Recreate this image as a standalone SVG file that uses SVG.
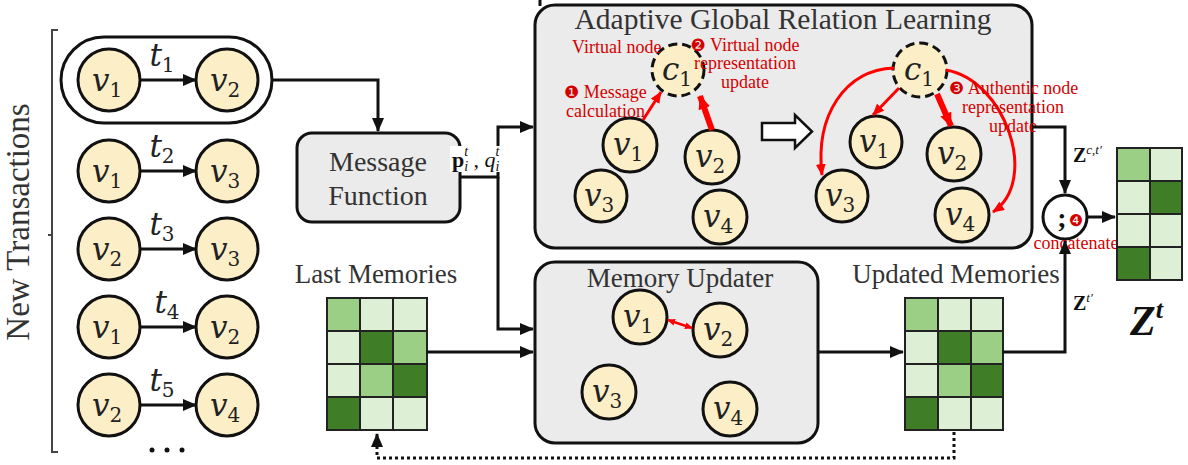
<svg xmlns="http://www.w3.org/2000/svg" width="1188" height="465" viewBox="0 0 1188 465">
<style>
.n{fill:#fcefc7;stroke:#111;stroke-width:3}
.c{fill:#fcefc7;stroke:#111;stroke-width:3;stroke-dasharray:9 5}
.v{font-family:"DejaVu Serif",serif;font-style:italic;font-size:31px;fill:#222;text-anchor:middle}
.s{font-style:normal;font-size:20px}
.box{fill:#ebebeb;stroke:#111;stroke-width:3}
.t{font-family:"Liberation Serif",serif;font-size:27px;fill:#333;text-anchor:middle}
.r{font-family:"Liberation Serif",serif;font-size:18px;fill:#d40000}
.num{font-family:"DejaVu Sans",sans-serif;font-size:17px}
.ln{fill:none;stroke:#111;stroke-width:3}
.rl{fill:none;stroke:#f00;stroke-width:3}
.rt{fill:none;stroke:#f00;stroke-width:6}
.g1{fill:#9ccf86;stroke:#222;stroke-width:2}
.g2{fill:#ddefd5;stroke:#222;stroke-width:2}
.g3{fill:#3f7e27;stroke:#222;stroke-width:2}
.m{font-family:"Liberation Serif",serif;fill:#111}
</style>
<defs>
<marker id="ah" markerUnits="userSpaceOnUse" markerWidth="14" markerHeight="12" refX="13" refY="6" orient="auto"><path d="M0,0 L14,6 L0,12 Z" fill="#111"/></marker>
<marker id="rh" markerUnits="userSpaceOnUse" markerWidth="12" markerHeight="10" refX="11" refY="5" orient="auto"><path d="M0,0 L12,5 L0,10 Z" fill="#f00"/></marker>
<marker id="rhb" markerUnits="userSpaceOnUse" markerWidth="14" markerHeight="12" refX="13" refY="6" orient="auto"><path d="M0,0 L14,6 L0,12 Z" fill="#f00"/></marker>
<marker id="rs" markerUnits="userSpaceOnUse" markerWidth="8" markerHeight="7" refX="7" refY="3.5" orient="auto-start-reverse"><path d="M0,0 L8,3.5 L0,7 Z" fill="#f00"/></marker>
</defs>
<rect width="1188" height="465" fill="#fff"/>

<g id="new-transactions">
<text x="0" y="0" transform="translate(29,222) rotate(-90)" font-family="Liberation Serif,serif" font-size="33" fill="#333" text-anchor="middle">New Transactions</text>
<path d="M58,30 H52 V452 H58 M52,235 H48" fill="none" stroke="#444" stroke-width="2"/>
</g>

<g id="transactions">
<rect x="61" y="37" width="211" height="86" rx="43" fill="#fff" stroke="#111" stroke-width="3"/>
<circle class="n" cx="109" cy="80" r="31"/><text class="v" x="107" y="91">v<tspan class="s" dy="6">1</tspan></text>
<circle class="n" cx="227" cy="80" r="31"/><text class="v" x="225" y="91">v<tspan class="s" dy="6">2</tspan></text>
<circle class="n" cx="109" cy="171" r="31"/><text class="v" x="107" y="182">v<tspan class="s" dy="6">1</tspan></text>
<circle class="n" cx="227" cy="171" r="31"/><text class="v" x="225" y="182">v<tspan class="s" dy="6">3</tspan></text>
<circle class="n" cx="109" cy="249" r="31"/><text class="v" x="107" y="260">v<tspan class="s" dy="6">2</tspan></text>
<circle class="n" cx="227" cy="249" r="31"/><text class="v" x="225" y="260">v<tspan class="s" dy="6">3</tspan></text>
<circle class="n" cx="109" cy="327" r="31"/><text class="v" x="107" y="338">v<tspan class="s" dy="6">1</tspan></text>
<circle class="n" cx="227" cy="327" r="31"/><text class="v" x="225" y="338">v<tspan class="s" dy="6">2</tspan></text>
<circle class="n" cx="109" cy="405" r="31"/><text class="v" x="107" y="416">v<tspan class="s" dy="6">2</tspan></text>
<circle class="n" cx="227" cy="405" r="31"/><text class="v" x="225" y="416">v<tspan class="s" dy="6">4</tspan></text>
<text class="v" x="162" y="66">t<tspan class="s" dy="6">1</tspan></text>
<text class="v" x="162" y="157">t<tspan class="s" dy="6">2</tspan></text>
<text class="v" x="162" y="235">t<tspan class="s" dy="6">3</tspan></text>
<text class="v" x="167" y="313">t<tspan class="s" dy="6">4</tspan></text>
<text class="v" x="162" y="391">t<tspan class="s" dy="6">5</tspan></text>
<circle cx="152" cy="450" r="2.5" fill="#111"/><circle cx="167" cy="450" r="2.5" fill="#111"/><circle cx="182" cy="450" r="2.5" fill="#111"/>
</g>

<g id="message-function">
<rect class="box" x="297" y="133" width="163" height="89" rx="15"/>
<text class="t" x="378" y="171" style="font-size:28px">Message</text>
<text class="t" x="378" y="205" style="font-size:28px">Function</text>
</g>

<g id="agrl">
<rect class="box" x="535" y="5" width="497" height="243" rx="20"/>
<text class="t" x="783" y="29" style="font-size:29.5px">Adaptive Global Relation Learning</text>
<circle class="c" cx="678" cy="70" r="26"/><text class="v" x="677" y="80">c<tspan class="s" dy="6">1</tspan></text>
<circle class="n" cx="630" cy="145" r="27"/><text class="v" x="628" y="155">v<tspan class="s" dy="6">1</tspan></text>
<circle class="n" cx="712" cy="157" r="27"/><text class="v" x="710" y="167">v<tspan class="s" dy="6">2</tspan></text>
<circle class="n" cx="601" cy="196" r="26"/><text class="v" x="599" y="206">v<tspan class="s" dy="6">3</tspan></text>
<circle class="n" cx="720" cy="217" r="27"/><text class="v" x="718" y="227">v<tspan class="s" dy="6">4</tspan></text>
<path class="rl" d="M643,120 L661,92" marker-end="url(#rh)"/>
<path class="rt" d="M712,130 L700,96" marker-end="url(#rhb)"/>
<text class="r" x="572" y="53">Virtual node</text>
<text class="r" x="745" y="51" text-anchor="middle"><tspan class="num">❷</tspan> Virtual node</text>
<text class="r" x="745" y="69" text-anchor="middle">representation</text>
<text class="r" x="745" y="88" text-anchor="middle">update</text>
<text class="r" x="564" y="98"><tspan class="num">❶</tspan> Message</text>
<text class="r" x="566" y="117">calculation</text>
<path d="M762,123 H795 V115 L812,131.5 L795,148 V140 H762 Z" fill="#fff" stroke="#111" stroke-width="2.5"/>
<circle class="c" cx="920" cy="70" r="27"/><text class="v" x="919" y="80">c<tspan class="s" dy="6">1</tspan></text>
<circle class="n" cx="876" cy="142" r="26"/><text class="v" x="874" y="152">v<tspan class="s" dy="6">1</tspan></text>
<circle class="n" cx="954" cy="154" r="27"/><text class="v" x="952" y="164">v<tspan class="s" dy="6">2</tspan></text>
<circle class="n" cx="842" cy="196" r="26"/><text class="v" x="840" y="206">v<tspan class="s" dy="6">3</tspan></text>
<circle class="n" cx="962" cy="215" r="27"/><text class="v" x="960" y="225">v<tspan class="s" dy="6">4</tspan></text>
<path class="rl" d="M899,88 L873,115" marker-end="url(#rh)"/>
<path class="rt" d="M937,94 L951,126" marker-end="url(#rhb)"/>
<path class="rl" d="M894,68 C845,70 815,115 822,175" marker-end="url(#rh)"/>
<path class="rl" d="M946,70 C1005,80 1040,180 993,212" marker-end="url(#rh)"/>
<text class="r" x="949" y="94"><tspan class="num">❸</tspan> Authentic node</text>
<text class="r" x="1013" y="113" text-anchor="middle">representation</text>
<text class="r" x="1013" y="132" text-anchor="middle">update</text>
</g>

<g id="memory-updater">
<rect class="box" x="535" y="262" width="283" height="181" rx="20"/>
<text class="t" x="680" y="287">Memory Updater</text>
<circle class="n" cx="640" cy="317" r="27"/><text class="v" x="638" y="327">v<tspan class="s" dy="6">1</tspan></text>
<circle class="n" cx="720" cy="330" r="27"/><text class="v" x="718" y="340">v<tspan class="s" dy="6">2</tspan></text>
<circle class="n" cx="609" cy="392" r="27"/><text class="v" x="607" y="402">v<tspan class="s" dy="6">3</tspan></text>
<circle class="n" cx="730" cy="409" r="27"/><text class="v" x="728" y="419">v<tspan class="s" dy="6">4</tspan></text>
<path d="M668,320 L692,328" fill="none" stroke="#f00" stroke-width="2.5" marker-start="url(#rs)" marker-end="url(#rs)"/>
</g>

<g id="last-memories">
<text class="t" x="376" y="283">Last Memories</text>
<rect class="g1" x="327" y="298" width="33" height="33"/><rect class="g2" x="360" y="298" width="33" height="33"/><rect class="g2" x="393" y="298" width="34" height="33"/>
<rect class="g2" x="327" y="331" width="33" height="33"/><rect class="g3" x="360" y="331" width="33" height="33"/><rect class="g1" x="393" y="331" width="34" height="33"/>
<rect class="g2" x="327" y="364" width="33" height="33"/><rect class="g1" x="360" y="364" width="33" height="33"/><rect class="g3" x="393" y="364" width="34" height="33"/>
<rect class="g3" x="327" y="397" width="33" height="33"/><rect class="g2" x="360" y="397" width="33" height="33"/><rect class="g2" x="393" y="397" width="34" height="33"/>
</g>

<g id="updated-memories">
<text class="t" x="956" y="283">Updated Memories</text>
<rect class="g1" x="905" y="298" width="33" height="33"/><rect class="g2" x="938" y="298" width="33" height="33"/><rect class="g2" x="971" y="298" width="32" height="33"/>
<rect class="g2" x="905" y="331" width="33" height="33"/><rect class="g3" x="938" y="331" width="33" height="33"/><rect class="g1" x="971" y="331" width="32" height="33"/>
<rect class="g2" x="905" y="364" width="33" height="33"/><rect class="g1" x="938" y="364" width="33" height="33"/><rect class="g3" x="971" y="364" width="32" height="33"/>
<rect class="g3" x="905" y="397" width="33" height="33"/><rect class="g2" x="938" y="397" width="33" height="33"/><rect class="g2" x="971" y="397" width="32" height="33"/>
</g>

<g id="concat">
<circle cx="1065" cy="217" r="22" fill="#fff" stroke="#111" stroke-width="3"/>
<text x="1062" y="227" font-family="Liberation Serif,serif" font-size="28" font-weight="bold" fill="#111" text-anchor="middle">;</text>
<text class="r" x="1076" y="226" text-anchor="middle"><tspan class="num" style="font-size:16px">❹</tspan></text>
<text class="r" x="1076" y="249" text-anchor="middle">concatenate</text>
</g>

<g id="zt">
<rect class="g1" x="1117" y="148" width="33" height="33"/><rect class="g2" x="1150" y="148" width="32" height="33"/>
<rect class="g2" x="1117" y="181" width="33" height="33"/><rect class="g3" x="1150" y="181" width="32" height="33"/>
<rect class="g2" x="1117" y="214" width="33" height="33"/><rect class="g2" x="1150" y="214" width="32" height="33"/>
<rect class="g3" x="1117" y="247" width="33" height="33"/><rect class="g2" x="1150" y="247" width="32" height="33"/>
<text class="m" x="1130" y="335" font-size="42" font-weight="bold" font-style="italic">Z<tspan font-size="26" dy="-17">t</tspan></text>
</g>

<g id="connectors">
<path class="ln" d="M540,0 V6"/>
<path class="ln" d="M140,80 H196" marker-end="url(#ah)"/>
<path class="ln" d="M140,171 H196" marker-end="url(#ah)"/>
<path class="ln" d="M140,249 H196" marker-end="url(#ah)"/>
<path class="ln" d="M140,327 H196" marker-end="url(#ah)"/>
<path class="ln" d="M140,405 H196" marker-end="url(#ah)"/>
<path class="ln" d="M272,80 H378 V131" marker-end="url(#ah)"/>
<path class="ln" d="M460,177 H498 V127 H533" marker-end="url(#ah)"/>
<path class="ln" d="M498,177 V329 H533" marker-end="url(#ah)"/>
<path class="ln" d="M427,352 H533" marker-end="url(#ah)"/>
<path class="ln" d="M818,352 H903" marker-end="url(#ah)"/>
<path class="ln" d="M1032,127 H1065 V193" marker-end="url(#ah)"/>
<path class="ln" d="M1003,352 H1065 V241" marker-end="url(#ah)"/>
<path class="ln" d="M1087,217 H1115" marker-end="url(#ah)"/>
<path d="M954,432 V458 H377 V434" fill="none" stroke="#111" stroke-width="3" stroke-dasharray="3 3" marker-end="url(#ah)"/>
<rect x="450" y="146" width="64" height="26" fill="#fff"/>
<text class="m" x="452" y="167" font-size="22"><tspan font-weight="bold">p</tspan><tspan font-size="14" font-style="italic" dy="4">i</tspan><tspan font-size="14" font-style="italic" dx="-4" dy="-15">t</tspan><tspan dy="11"> ,  </tspan><tspan font-style="italic">q</tspan><tspan font-size="14" font-style="italic" dy="4">i</tspan><tspan font-size="14" font-style="italic" dx="-4" dy="-15">t</tspan></text>
<text class="m" x="1073" y="162" font-size="20"><tspan font-weight="bold">Z</tspan><tspan font-size="13" font-style="italic" dy="-8">c,t′</tspan></text>
<text class="m" x="1073" y="310" font-size="20"><tspan font-weight="bold">Z</tspan><tspan font-size="13" font-style="italic" dy="-8">t′</tspan></text>
</g>
</svg>
